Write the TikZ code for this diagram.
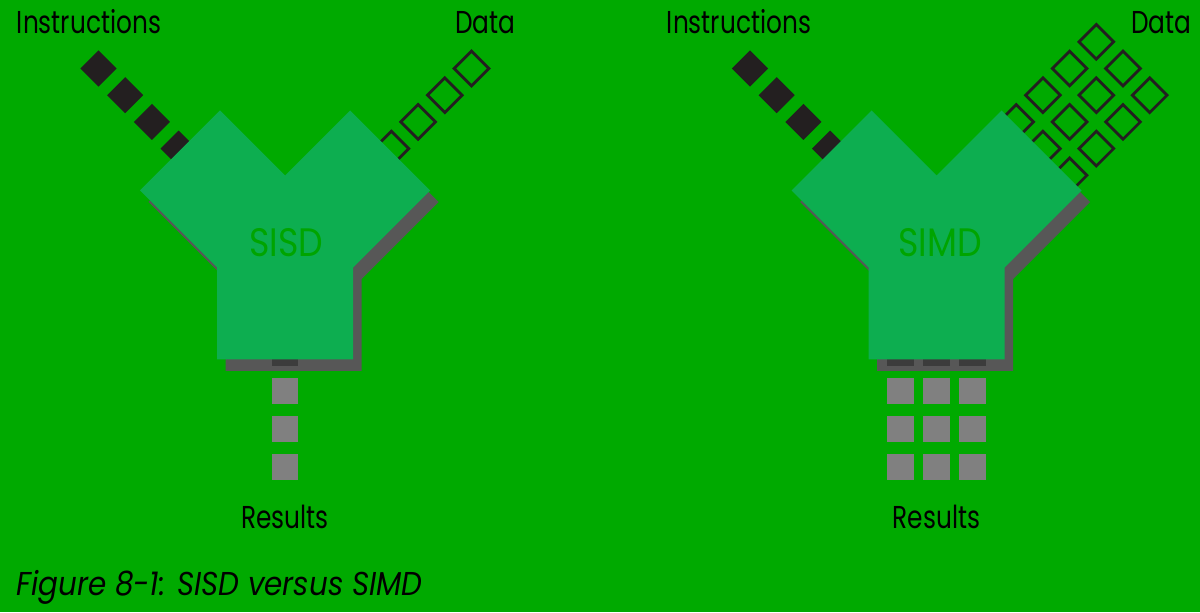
\documentclass[tikz,border=0pt]{standalone}
\usepackage{fontspec}
\setmainfont{Poppins}[FakeStretch=0.785]
\newfontfamily\namefont{Poppins}[FakeStretch=0.875]
\newfontfamily\capfont{Poppins}[FakeStretch=0.89]
\usetikzlibrary{positioning}
\definecolor{BgGreen}   {HTML}{00AA00}
\definecolor{ChipGreen} {HTML}{0DAE50}
\definecolor{ShadowGray}{HTML}{575757}
\definecolor{InkDark}   {HTML}{231F20}
\definecolor{ResultGray}{HTML}{808080}
\definecolor{PeekGray}  {HTML}{3C3C3C}
\definecolor{NameGreen} {HTML}{00A400}
\tikzset{
  instr/.style={rectangle,fill=InkDark,rotate=45,minimum size=0.51cm,inner sep=0pt},
  datum/.style={rectangle,draw=InkDark,line width=1.6pt,rotate=45,
                minimum size=0.49cm,inner sep=0pt},
  res/.style={rectangle,fill=ResultGray,minimum width=0.53cm,
              minimum height=0.52cm,inner sep=0pt},
  peek/.style={res,fill=PeekGray},
  lbl/.style={font=\fontsize{18}{20}\selectfont,text=black,inner sep=0pt,anchor=base},
  unitname/.style={font=\namefont\fontsize{22.6}{26}\selectfont,text=NameGreen,
                   inner sep=0pt,anchor=base},
}

\begin{document}
\begin{tikzpicture}

  \fill[BgGreen] (0,0) rectangle (24,12.24);
  \useasboundingbox (0,0) rectangle (24,12.24);

  % SISD
  \begin{scope}[shift={(5.7,0)}]
    \foreach \k in {0,...,3}{
      \node[instr] (sisdI\k) at ({-3.73+0.534*\k},{10.87-0.534*\k}) {};
      \node[datum] (sisdD\k) at ({3.73-0.534*\k},{10.87-0.534*\k}) {};
    }
    \fill[ShadowGray,shift={(0.17,-0.23)}] (-2.9,8.43) -- (-1.3,10.03) -- (0,8.73)
      -- (1.3,10.03) -- (2.9,8.43) -- (1.36,6.89) -- (1.36,5.05) -- (-1.36,5.05)
      -- (-1.36,6.89) -- cycle;
    \node[peek] (sisdP) at (0,5.18) {};
    \fill[ChipGreen] (-2.9,8.43) -- (-1.3,10.03) -- (0,8.73) -- (1.3,10.03)
      -- (2.9,8.43) -- (1.36,6.89) -- (1.36,5.05) -- (-1.36,5.05)
      -- (-1.36,6.89) -- cycle;
    \node[unitname] (sisdName) at (0.03,7.106) {SISD};
    \foreach \r/\y in {1/4.42,2/3.66,3/2.90}
      \node[res] (sisdR\r) at (0,\y) {};
    \node[lbl] (sisdInstr) at (-3.92,11.56) {Instructions};
    \node[lbl] (sisdData)  at (4.01,11.56) {Data};
    \node[lbl] (sisdRes)   at (0,1.68) {Results};
  \end{scope}

  % SIMD
  \begin{scope}[shift={(18.73,0)}]
    \foreach \k in {0,...,3}{
      \node[instr] (simdI\k) at ({-3.73+0.534*\k},{10.87-0.534*\k}) {};
      \foreach \s in {-1,0,1}
        \node[datum] (simdD\k\s) at ({3.73-0.534*\k+0.534*\s},{10.87-0.534*\k-0.534*\s}) {};
    }
    \fill[ShadowGray,shift={(0.17,-0.23)}] (-2.9,8.43) -- (-1.3,10.03) -- (0,8.73)
      -- (1.3,10.03) -- (2.9,8.43) -- (1.36,6.89) -- (1.36,5.05) -- (-1.36,5.05)
      -- (-1.36,6.89) -- cycle;
    \foreach \c/\x in {a/-0.72,b/0,c/0.72}
      \node[peek] (simdP\c) at (\x,5.18) {};
    \fill[ChipGreen] (-2.9,8.43) -- (-1.3,10.03) -- (0,8.73) -- (1.3,10.03)
      -- (2.9,8.43) -- (1.36,6.89) -- (1.36,5.05) -- (-1.36,5.05)
      -- (-1.36,6.89) -- cycle;
    \node[unitname] (simdName) at (0.07,7.106) {SIMD};
    \foreach \c/\x in {a/-0.72,b/0,c/0.72}
      \foreach \r/\y in {1/4.42,2/3.66,3/2.90}
        \node[res] (simdR\c\r) at (\x,\y) {};
    \node[lbl] (simdInstr) at (-3.95,11.56) {Instructions};
    \node[lbl] (simdData)  at (4.5,11.56) {Data};
    \node[lbl] (simdRes)   at (0,1.68) {Results};
  \end{scope}

  \node[font=\capfont\fontsize{18.8}{22}\selectfont\itshape,text=black,anchor=base west,
        inner sep=0pt] (caption) at (0.32,0.326) {Figure 8-1: SISD versus SIMD};

\end{tikzpicture}
\end{document}
